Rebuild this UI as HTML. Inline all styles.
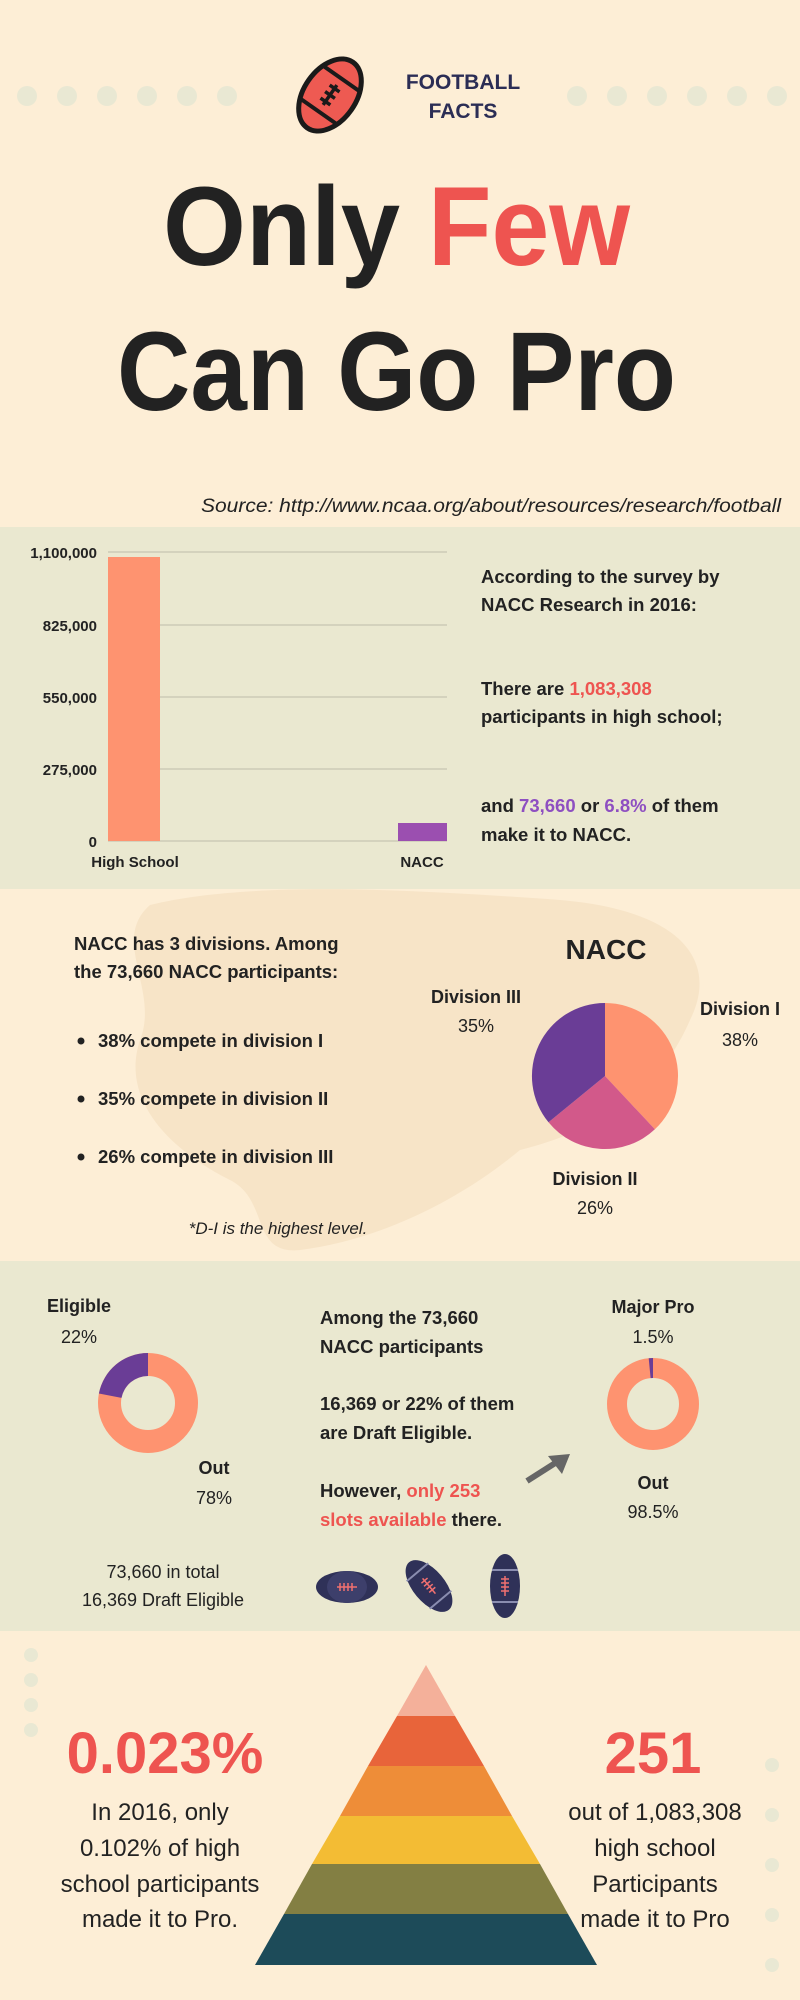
<!DOCTYPE html>
<html><head><meta charset="utf-8"><style>html,body{margin:0;padding:0;background:#fdeed6}svg{display:block}text{font-family:"Liberation Sans",sans-serif}</style></head><body>
<svg width="800" height="2000" viewBox="0 0 800 2000" xmlns="http://www.w3.org/2000/svg">
<rect width="800" height="2000" fill="#fdeed6"/>
<g fill="#e9e8d3">
<circle cx="27" cy="96" r="10"/><circle cx="67" cy="96" r="10"/><circle cx="107" cy="96" r="10"/><circle cx="147" cy="96" r="10"/><circle cx="187" cy="96" r="10"/><circle cx="227" cy="96" r="10"/>
<circle cx="577" cy="96" r="10"/><circle cx="617" cy="96" r="10"/><circle cx="657" cy="96" r="10"/><circle cx="697" cy="96" r="10"/><circle cx="737" cy="96" r="10"/><circle cx="777" cy="96" r="10"/>
</g>
<g transform="translate(330,95) rotate(35)">
<ellipse cx="0" cy="0" rx="26" ry="40" fill="#ee5a52" stroke="#1a1a1a" stroke-width="5"/>
<path d="M-22,-20 L22,-20 M-22,20 L22,20" stroke="#1a1a1a" stroke-width="4"/>
<path d="M0,-12 L0,12 M-6,-8 L6,-8 M-6,0 L6,0 M-6,8 L6,8" stroke="#1a1a1a" stroke-width="3.5"/>
</g>
<text x="463" y="89" text-anchor="middle" font-size="21" font-weight="bold" fill="#2b2d55">FOOTBALL</text>
<text x="463" y="118" text-anchor="middle" font-size="21" font-weight="bold" fill="#2b2d55">FACTS</text>
<text x="163" y="265" font-size="112" font-weight="bold" fill="#222" textLength="237" lengthAdjust="spacingAndGlyphs">Only</text>
<text x="428" y="265" font-size="112" font-weight="bold" fill="#ee5450" textLength="202" lengthAdjust="spacingAndGlyphs">Few</text>
<text x="117" y="410" font-size="112" font-weight="bold" fill="#222" textLength="559" lengthAdjust="spacingAndGlyphs">Can Go Pro</text>
<text x="781" y="512" text-anchor="end" font-size="19" font-style="italic" fill="#222" textLength="580" lengthAdjust="spacingAndGlyphs">Source: http://www.ncaa.org/about/resources/research/football</text>
<rect x="0" y="527" width="800" height="362" fill="#eae8d0"/>
<g stroke="#bdbbaa" stroke-width="1">
<line x1="108" y1="552" x2="447" y2="552"/><line x1="108" y1="625" x2="447" y2="625"/><line x1="108" y1="697" x2="447" y2="697"/><line x1="108" y1="769" x2="447" y2="769"/><line x1="108" y1="841" x2="447" y2="841"/>
</g>
<g font-size="15" font-weight="bold" fill="#222" text-anchor="end">
<text x="97" y="558">1,100,000</text><text x="97" y="631">825,000</text><text x="97" y="703">550,000</text><text x="97" y="775">275,000</text><text x="97" y="847">0</text>
</g>
<rect x="108" y="557" width="52" height="284" fill="#fe9370"/>
<rect x="398" y="823" width="49" height="18" fill="#9b4fb0"/>
<text x="135" y="867" text-anchor="middle" font-size="15" font-weight="bold" fill="#222">High School</text>
<text x="422" y="867" text-anchor="middle" font-size="15" font-weight="bold" fill="#222">NACC</text>
<g font-size="18.5" font-weight="bold" fill="#222">
<text x="481" y="583">According to the survey by</text>
<text x="481" y="611">NACC Research in 2016:</text>
<text x="481" y="695">There are <tspan fill="#ee5450">1,083,308</tspan></text>
<text x="481" y="723">participants in high school;</text>
<text x="481" y="812">and <tspan fill="#8e4fc1">73,660</tspan> or <tspan fill="#8e4fc1">6.8%</tspan> of them</text>
<text x="481" y="841">make it to NACC.</text>
</g>
<path d="M150,905 C250,880 420,890 560,900 C680,910 720,960 690,1020 C660,1090 600,1130 520,1150 C460,1200 380,1240 300,1250 C250,1255 270,1200 230,1180 C170,1150 120,1100 140,1040 C160,990 110,940 150,905 Z" fill="#f5e1c3" opacity="0.8"/>
<g font-size="18.5" font-weight="bold" fill="#222">
<text x="74" y="950">NACC has 3 divisions. Among</text>
<text x="74" y="978">the 73,660 NACC participants:</text>
<text x="98" y="1047">38% compete in division I</text>
<text x="98" y="1105">35% compete in division II</text>
<text x="98" y="1163">26% compete in division III</text>
</g>
<g fill="#222"><circle cx="81" cy="1041" r="3.5"/><circle cx="81" cy="1099" r="3.5"/><circle cx="81" cy="1157" r="3.5"/></g>
<text x="278" y="1234" text-anchor="middle" font-size="17" font-style="italic" fill="#222">*D-I is the highest level.</text>
<text x="606" y="959" text-anchor="middle" font-size="28" font-weight="bold" fill="#222">NACC</text>
<g transform="translate(605,1076)">
<path d="M0,0 L0,-73 A73,73 0 0,1 49.9,53.3 Z" fill="#fe9370"/>
<path d="M0,0 L49.9,53.3 A73,73 0 0,1 -56.5,46.3 Z" fill="#d2598a"/>
<path d="M0,0 L-56.5,46.3 A73,73 0 0,1 0,-73 Z" fill="#6a3d96"/>
</g>
<g font-size="18" fill="#222" text-anchor="middle">
<text x="476" y="1003" font-weight="bold">Division III</text><text x="476" y="1032">35%</text>
<text x="740" y="1015" font-weight="bold">Division I</text><text x="740" y="1046">38%</text>
<text x="595" y="1185" font-weight="bold">Division II</text><text x="595" y="1214">26%</text>
</g>
<rect x="0" y="1261" width="800" height="370" fill="#eae8d0"/>
<g transform="translate(148,1403)">
<circle r="38.5" fill="none" stroke="#fe9370" stroke-width="23"/>
<path d="M0,-50 A50,50 0 0,0 -49.1,-9.5 L-26.5,-5.1 A27,27 0 0,1 0,-27 Z" fill="#6a3d96"/>
</g>
<g font-size="18" fill="#222" text-anchor="middle">
<text x="79" y="1312" font-weight="bold">Eligible</text><text x="79" y="1343">22%</text>
<text x="214" y="1474" font-weight="bold">Out</text><text x="214" y="1504">78%</text>
<text x="653" y="1313" font-weight="bold">Major Pro</text><text x="653" y="1343">1.5%</text>
<text x="653" y="1489" font-weight="bold">Out</text><text x="653" y="1518">98.5%</text>
<text x="163" y="1578">73,660 in total</text><text x="163" y="1606">16,369 Draft Eligible</text>
</g>
<g transform="translate(653,1404)">
<circle r="36" fill="none" stroke="#fe9370" stroke-width="20"/>
<path d="M0,-46 A46,46 0 0,0 -4.3,-45.8 L-2.4,-25.9 A26,26 0 0,1 0,-26 Z" fill="#6a3d96"/>
</g>
<g font-size="18.5" font-weight="bold" fill="#222">
<text x="320" y="1324">Among the 73,660</text>
<text x="320" y="1353">NACC participants</text>
<text x="320" y="1410">16,369 or 22% of them</text>
<text x="320" y="1439">are Draft Eligible.</text>
<text x="320" y="1497">However, <tspan fill="#ee5450">only 253</tspan></text>
<text x="320" y="1526"><tspan fill="#ee5450">slots available</tspan> there.</text>
</g>
<line x1="527" y1="1481" x2="560" y2="1460" stroke="#666" stroke-width="6"/>
<polygon points="570,1454 548,1456 562,1474" fill="#666"/>
<g transform="translate(347,1587)"><ellipse rx="31" ry="16" fill="#2f3158"/><ellipse rx="20" ry="16" fill="#3d3f6b"/><path d="M-10,0 L10,0 M-7,-4 L-7,4 M-3,-4 L-3,4 M1,-4 L1,4 M5,-4 L5,4" stroke="#f07070" stroke-width="1.5"/></g>
<g transform="translate(429,1586) rotate(50)"><ellipse rx="31" ry="16" fill="#2f3158"/><path d="M-18,-14 L-18,14 M18,-14 L18,14" stroke="#8a8db0" stroke-width="2"/><path d="M-10,0 L10,0 M-7,-4 L-7,4 M-3,-4 L-3,4 M1,-4 L1,4 M5,-4 L5,4" stroke="#f07070" stroke-width="1.5"/></g>
<g transform="translate(505,1586)"><ellipse rx="15" ry="32" fill="#2f3158"/><path d="M-13,-16 L13,-16 M-13,16 L13,16" stroke="#8a8db0" stroke-width="2"/><path d="M0,-10 L0,10 M-4,-7 L4,-7 M-4,-3 L4,-3 M-4,1 L4,1 M-4,5 L4,5" stroke="#f07070" stroke-width="1.5"/></g>
<g fill="#e9e8d3"><circle cx="31" cy="1655" r="7"/><circle cx="31" cy="1680" r="7"/><circle cx="31" cy="1705" r="7"/><circle cx="31" cy="1730" r="7"/>
<circle cx="772" cy="1765" r="7"/><circle cx="772" cy="1815" r="7"/><circle cx="772" cy="1865" r="7"/><circle cx="772" cy="1915" r="7"/><circle cx="772" cy="1965" r="7"/></g>
<text x="165" y="1773" text-anchor="middle" font-size="58" font-weight="bold" fill="#ee5450">0.023%</text>
<text x="653" y="1773" text-anchor="middle" font-size="58" font-weight="bold" fill="#ee5450">251</text>
<g font-size="24" fill="#222" text-anchor="middle">
<text x="160" y="1820">In 2016, only</text><text x="160" y="1856">0.102% of high</text><text x="160" y="1892">school participants</text><text x="160" y="1927">made it to Pro.</text>
<text x="655" y="1820">out of 1,083,308</text><text x="655" y="1856">high school</text><text x="655" y="1892">Participants</text><text x="655" y="1927">made it to Pro</text>
</g>
<polygon points="426,1665 455,1716 397,1716" fill="#f4b09a"/>
<polygon points="397,1716 455,1716 484,1766 368,1766" fill="#e8643a"/>
<polygon points="368,1766 484,1766 512,1816 340,1816" fill="#ee8d38"/>
<polygon points="340,1816 512,1816 540,1864 312,1864" fill="#f3bc34"/>
<polygon points="312,1864 540,1864 568,1914 284,1914" fill="#837f43"/>
<polygon points="284,1914 568,1914 597,1965 255,1965" fill="#1d4b59"/>
</svg>
</body></html>
